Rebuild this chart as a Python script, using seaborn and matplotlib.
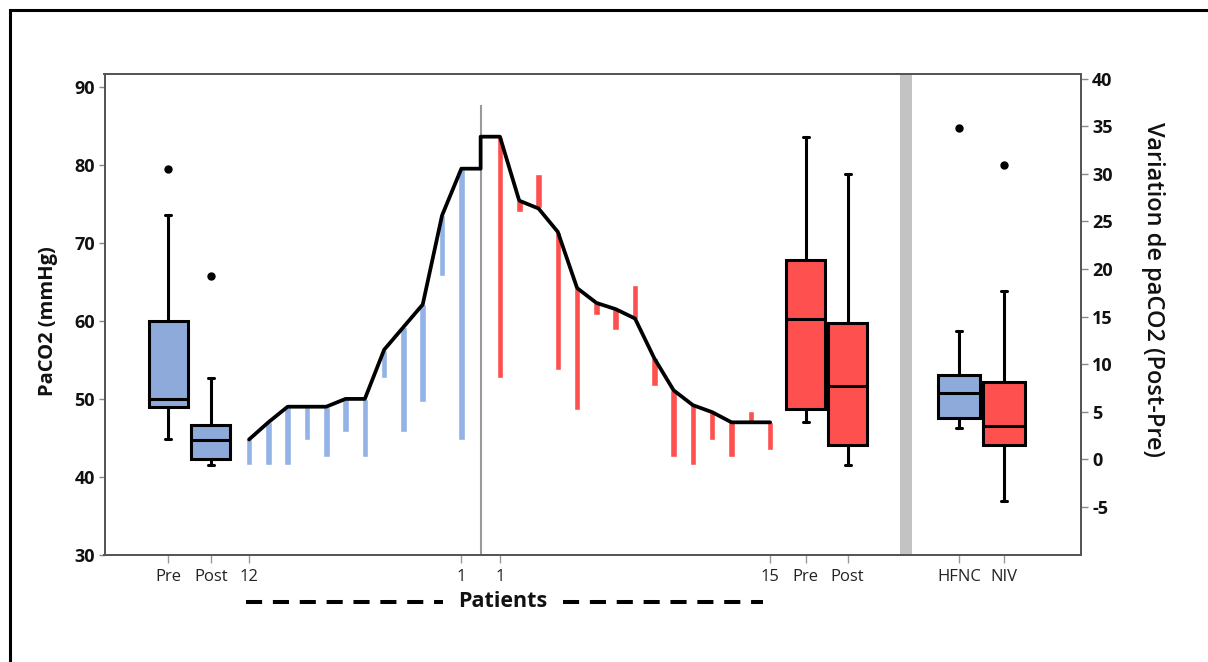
import numpy as np
import pandas as pd
import matplotlib
matplotlib.use("Agg")
import matplotlib.pyplot as plt
import seaborn as sns
from matplotlib.lines import Line2D
from matplotlib.patches import Rectangle

# PaCO2 (mmHg) par patient, dans l'ordre de la figure
hfnc_pre = [44.8, 47.0, 49.0, 49.0, 49.0, 50.0, 50.0, 56.3, 59.2, 62.1, 73.5, 79.5]
hfnc_post = [41.5, 41.5, 41.5, 44.7, 42.5, 45.7, 42.5, 52.7, 45.7, 49.6, 65.8, 44.7]
niv_pre = [83.6, 75.4, 74.4, 71.4, 64.2, 62.3, 61.5, 60.3, 55.2, 51.1, 49.2, 48.3, 47.0, 47.0, 47.0]
niv_post = [52.7, 74.0, 78.8, 53.7, 48.6, 60.7, 58.8, 64.6, 51.7, 42.5, 41.5, 44.7, 42.5, 48.4, 43.5]

tick_labels = ["Pre", "Post", "12", "1", "1", "15", "Pre", "Post", "HFNC", "NIV"]

BLUE = "#8EAADB"
BLUE_BAR = "#93B3E6"
RED = "#FF5050"

W, H = 1208, 662

# positions sur l'axe x (1 unite = ecart entre deux patients)
hfnc_x = np.arange(1, len(hfnc_pre) + 1)
split_x = len(hfnc_pre) + 1
niv_x = np.arange(split_x + 1, split_x + 1 + len(niv_pre))
pos = {"hfnc_pre": -3.18, "hfnc_post": -0.98, "niv_pre": 29.84, "niv_post": 32.02,
       "hfnc_var": 37.79, "niv_var": 40.13}

sns.set_theme(style="white")
plt.rcParams["font.family"] = ["Open Sans", "DejaVu Sans"]

fig = plt.figure(figsize=(W / 100, H / 100), dpi=100)
ax = fig.add_axes([104.5 / W, (H - 555) / H, (1081 - 104.5) / W, (555 - 74) / H])

flier = dict(marker="o", markersize=5, markerfacecolor="black", markeredgecolor="black")
box_kws = dict(hue="groupe", palette={"HFNC": BLUE, "NIV": RED}, native_scale=True, dodge=False,
               width=0.93, saturation=1, linecolor="black", linewidth=2.2, flierprops=flier,
               legend=False)


def boites(df, y, axe):
    sns.boxplot(data=df, x="pos", y=y, ax=axe, **box_kws)
    # moustaches : petites barres de fin
    for ln in axe.lines:
        xs, ys = ln.get_xdata(), ln.get_ydata()
        if len(xs) == 2 and ys[0] == ys[1] and 0 < abs(xs[1] - xs[0]) < 1.5:
            c = (xs[0] + xs[1]) / 2
            ln.set_xdata([c - 0.15, c + 0.15])


# boites Pre/Post (axe gauche)
left_df = pd.DataFrame({
    "pos": [pos["hfnc_pre"]] * len(hfnc_pre) + [pos["hfnc_post"]] * len(hfnc_post)
           + [pos["niv_pre"]] * len(niv_pre) + [pos["niv_post"]] * len(niv_post),
    "paco2": hfnc_pre + hfnc_post + niv_pre + niv_post,
    "groupe": ["HFNC"] * (len(hfnc_pre) + len(hfnc_post)) + ["NIV"] * (len(niv_pre) + len(niv_post)),
})
boites(left_df, "paco2", ax)

# barres patient par patient (Pre -> Post)
hfnc_lo = np.minimum(hfnc_pre, hfnc_post)
hfnc_hi = np.maximum(hfnc_pre, hfnc_post)
niv_lo = np.minimum(niv_pre, niv_post)
niv_hi = np.maximum(niv_pre, niv_post)
ax.bar(hfnc_x, hfnc_hi - hfnc_lo, bottom=hfnc_lo, width=0.34, color=BLUE_BAR, zorder=2)
ax.bar(niv_x, niv_hi - niv_lo, bottom=niv_lo, width=0.34, color=RED, zorder=2)

ax.vlines(split_x, 30, 87.7, color="#9a9a9a", lw=1.5, zorder=1)

# courbe des valeurs Pre
line_x = list(hfnc_x) + [split_x, split_x] + list(niv_x)
line_y = hfnc_pre + [hfnc_pre[-1], niv_pre[0]] + niv_pre
sns.lineplot(x=line_x, y=line_y, sort=False, estimator=None, color="black", lw=2.7, ax=ax, zorder=4)

ax.axvspan(34.73, 35.35, color="#c3c3c3", lw=0, zorder=0)

# variation (axe droit)
ax2 = ax.twinx()
hfnc_var = list(np.array(hfnc_pre) - np.array(hfnc_post))
niv_var = list(np.array(niv_pre) - np.array(niv_post))
right_df = pd.DataFrame({
    "pos": [pos["hfnc_var"]] * len(hfnc_var) + [pos["niv_var"]] * len(niv_var),
    "variation": hfnc_var + niv_var,
    "groupe": ["HFNC"] * len(hfnc_var) + ["NIV"] * len(niv_var),
})
boites(right_df, "variation", ax2)

# axes
ax.set_xlim(-6.49, 44.11)
ax.set_ylim(30, 91.63)
ax2.set_ylim(-10.05, 40.49)

ax.set_yticks(range(30, 91, 10))
ax.set_yticklabels([str(v) for v in range(30, 91, 10)], fontweight="bold", fontsize=13, color="#111111")
ax2.set_yticks(range(-5, 41, 5))
ax2.set_yticklabels([str(v) for v in range(-5, 41, 5)], fontweight="bold", fontsize=13, color="#111111")

tick_pos = [pos["hfnc_pre"], pos["hfnc_post"], hfnc_x[0], hfnc_x[-1], niv_x[0], niv_x[-1],
            pos["niv_pre"], pos["niv_post"], pos["hfnc_var"], pos["niv_var"]]
ax.set_xticks(tick_pos)
ax.set_xticklabels(tick_labels, fontsize=12, color="#222222")

ax.tick_params(axis="y", left=True, length=4, width=1, color="#888888", pad=3)
ax.tick_params(axis="x", bottom=True, length=6, width=1, color="#999999", pad=4)
ax2.tick_params(axis="y", right=True, length=5, width=1, color="#888888", pad=3)
ax.set_xlabel("")
ax.set_ylabel("")
ax2.set_xlabel("")
ax2.set_ylabel("")

for a in (ax, ax2):
    for sp in a.spines.values():
        sp.set_visible(True)
        sp.set_color("#555555")
        sp.set_linewidth(1.3)

fig.text(48 / W, 1 - 321 / H, "PaCO2 (mmHg)", rotation=90, ha="center", va="center",
         fontsize=14.5, fontweight="bold", color="#111111")
fig.text(1153 / W, 1 - 290 / H, "Variation de paCO2 (Post-Pre)", rotation=270, ha="center",
         va="center", fontsize=17, fontweight="semibold", color="#111111")

# ligne pointillee "Patients"
y_pat = 1 - 601.7 / H
for x0, x1 in [(245.7, 443), (563, 763)]:
    fig.add_artist(Line2D([x0 / W, x1 / W], [y_pat, y_pat], transform=fig.transFigure,
                          color="black", lw=2.9, dashes=(4.0, 2.67), dash_capstyle="butt"))
fig.text(503 / W, y_pat, "Patients", ha="center", va="center", fontsize=15.5, fontweight="bold",
         color="#111111")

# cadre exterieur
fig.add_artist(Rectangle((9.5 / W, -0.5), 2, 1.5 - 9.5 / H, transform=fig.transFigure,
                         fill=False, edgecolor="black", lw=2.2, clip_on=False))

fig.savefig("out.png", dpi=100)
